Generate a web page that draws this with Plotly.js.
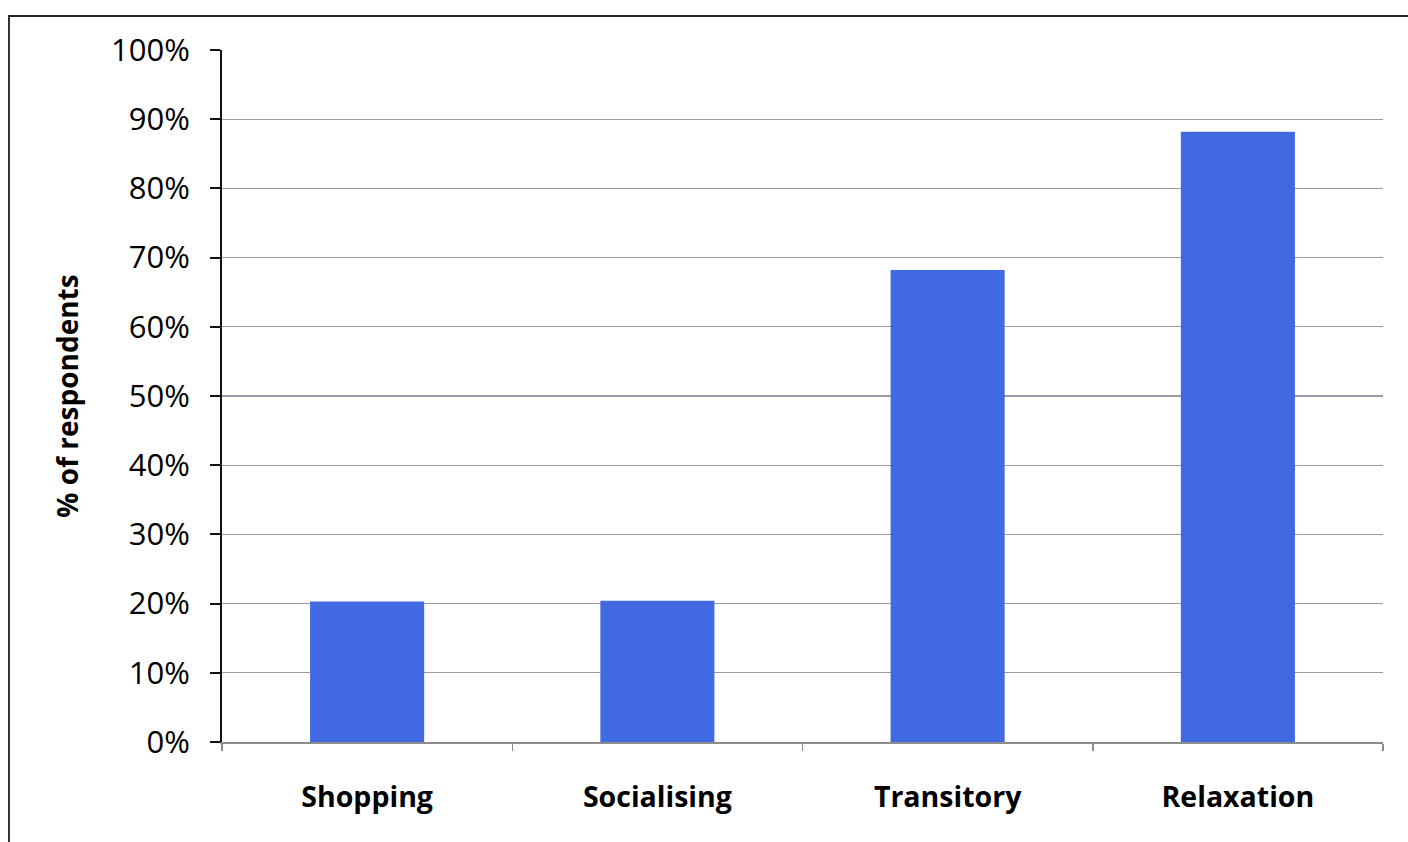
<!DOCTYPE html>
<html>
<head>
<meta charset="utf-8">
<script src="https://cdn.plot.ly/plotly-3.0.1.min.js"></script>
<style>
  html, body { margin: 0; padding: 0; background: #fff; overflow: hidden; }
  #chart { position: absolute; left: 0; top: 0; width: 1408px; height: 842px; }
  #frame { position: absolute; left: 8px; top: 15px; width: 1420px; height: 900px;
           border-left: 2px solid #333; border-top: 2px solid #222; pointer-events: none; }
</style>
</head>
<body>
<div id="chart"></div>
<div id="frame"></div>
<script>
const categories = ["Shopping", "Socialising", "Transitory", "Relaxation"];
const percentRespondents = [20.3, 20.4, 68.2, 88.2];
const yTickValues = [0, 10, 20, 30, 40, 50, 60, 70, 80, 90, 100];
const yTickLabels = ["0%", "10%", "20%", "30%", "40%", "50%", "60%", "70%", "80%", "90%", "100%"];

const trace = {
  type: "bar",
  x: categories,
  y: percentRespondents,
  marker: { color: "#4169e1", line: { width: 0 } },
  hoverinfo: "x+y"
};

const FONT = "'Open Sans', 'Liberation Sans', sans-serif";

const layout = {
  width: 1408,
  height: 842,
  margin: { l: 222, r: 25, t: 50, b: 100 },
  paper_bgcolor: "#ffffff",
  plot_bgcolor: "#ffffff",
  showlegend: false,
  bargap: 0.607,
  font: { family: FONT, color: "#000" },
  xaxis: {
    type: "category",
    showgrid: false,
    showline: true,
    linecolor: "#8c8c8c",
    linewidth: 1.5,
    ticks: "outside",
    tickson: "boundaries",
    ticklen: 7,
    tickcolor: "#8c8c8c",
    tickwidth: 1.5,
    ticklabelstandoff: 29,
    tickfont: { size: 28.5, family: FONT, weight: "bold", color: "#000" },
    zeroline: false,
    fixedrange: true
  },
  yaxis: {
    range: [0, 100],
    tickvals: yTickValues,
    ticktext: yTickLabels,
    showgrid: true,
    gridcolor: "#9a9aa8",
    gridwidth: 1.2,
    showline: true,
    linecolor: "#111",
    linewidth: 2,
    ticks: "outside",
    ticklen: 10,
    tickwidth: 2,
    tickcolor: "#111",
    ticklabelstandoff: 14,
    tickfont: { size: 31, family: FONT, color: "#000" },
    zeroline: false,
    title: {
      text: "% of respondents",
      font: { size: 28, family: FONT, weight: "bold", color: "#000" },
      standoff: 24
    },
    fixedrange: true
  }
};

Plotly.newPlot("chart", [trace], layout, { displayModeBar: false, staticPlot: true });
</script>
</body>
</html>
